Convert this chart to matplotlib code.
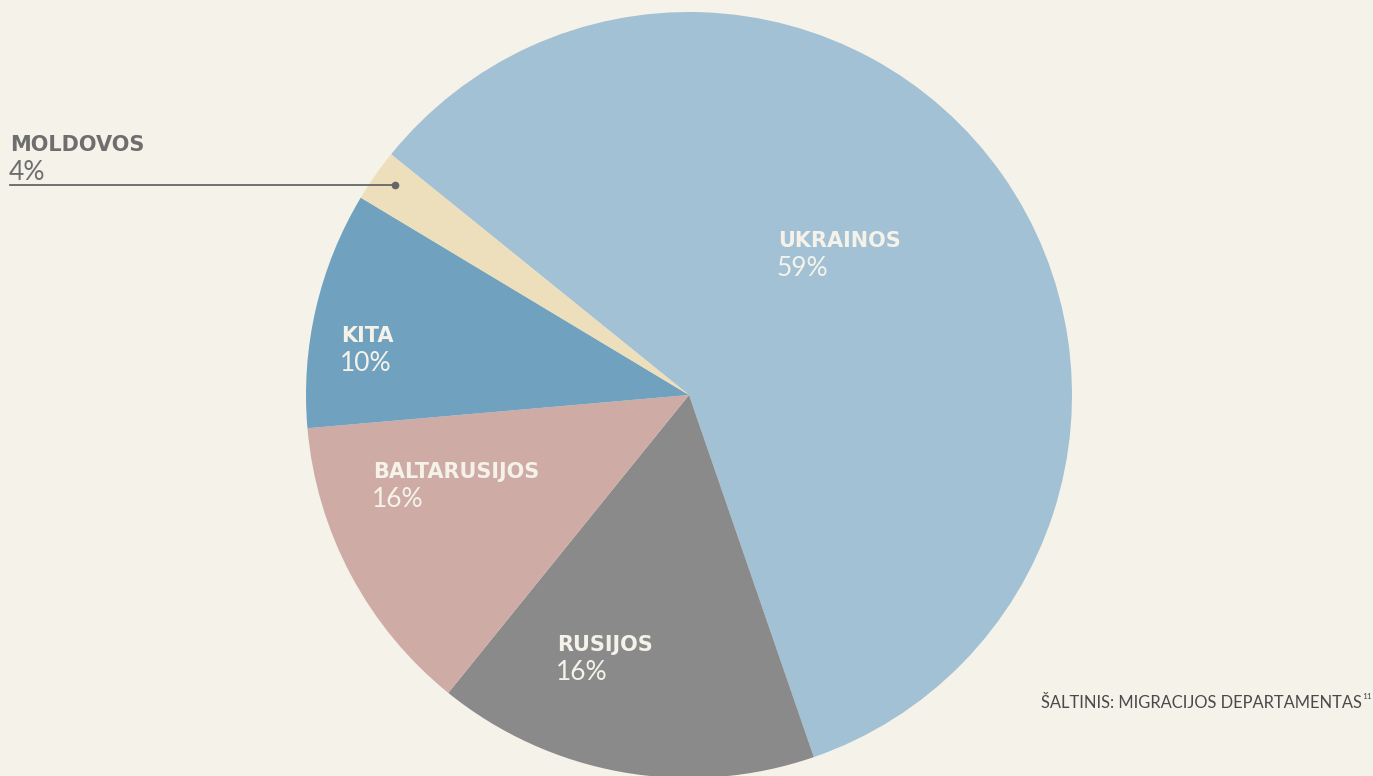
import matplotlib.pyplot as plt

# slice shares as drawn (labels carry the printed percentages)
countries = ['UKRAINOS', 'RUSIJOS', 'BALTARUSIJOS', 'KITA', 'MOLDOVOS']
shares = [58.9, 16.1, 12.8, 10.0, 2.2]
pct_labels = ['59%', '16%', '16%', '10%', '4%']
colors = ['#a2c1d4', '#8a8a8a', '#cfaba6', '#70a2c0', '#eddfbb']

W, H = 1373, 776
bg = '#f5f2ea'

fig = plt.figure(figsize=(W / 100, H / 100), dpi=100, facecolor=bg)
ax = fig.add_axes([0, 0, 1, 1])
ax.set_facecolor(bg)

ax.pie(shares, colors=colors, startangle=141.06, counterclock=False,
       center=(689, H - 395), radius=383, frame=True,
       wedgeprops=dict(linewidth=0))
ax.set_xlim(0, W)
ax.set_ylim(0, H)
ax.set_aspect('equal')
ax.axis('off')

# label anchor points (pixel coords, y from top)
label_pos = {
    'UKRAINOS': (778, 247, '#f5f2ea'),
    'RUSIJOS': (557, 651, '#f5f2ea'),
    'BALTARUSIJOS': (373, 478, '#f5f2ea'),
    'KITA': (341, 342, '#f5f2ea'),
    'MOLDOVOS': (10, 151, '#6e6e6e'),
}

for name, pct in zip(countries, pct_labels):
    x, y, c = label_pos[name]
    ax.text(x, H - y, name, fontsize=15, fontweight='bold', color=c,
            family='DejaVu Sans', ha='left', va='baseline')
    ax.text(x - 1, H - y - 29, pct, fontsize=19, fontweight='normal', color=c,
            family=['Lato', 'DejaVu Sans'], ha='left', va='baseline')

# leader line for Moldovos
ax.plot([10, 395], [H - 185, H - 185], color='#666666', lw=1.3)
ax.plot(395, H - 185, 'o', color='#666666', ms=4.5)

# source
ax.text(1362, H - 708, 'ŠALTINIS: MIGRACIJOS DEPARTAMENTAS', fontsize=11.9,
        fontweight='normal', color='#4a4a4a', family=['Lato', 'DejaVu Sans'],
        ha='right', va='baseline')
ax.text(1362, H - 699, '11', fontsize=6, fontweight='normal', color='#4a4a4a',
        family=['Lato', 'DejaVu Sans'], ha='left', va='baseline')

fig.savefig('out.png', dpi=100, facecolor=bg)
